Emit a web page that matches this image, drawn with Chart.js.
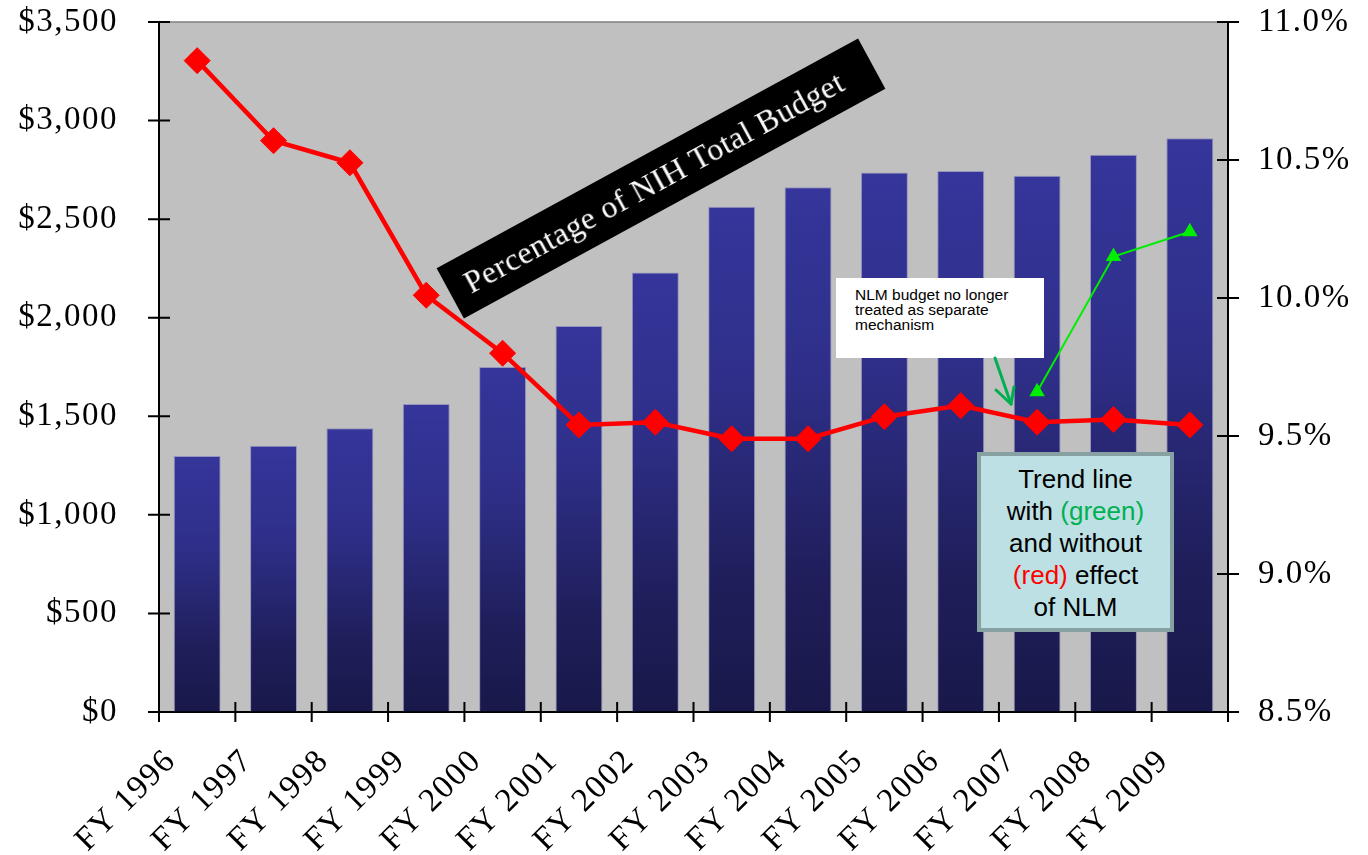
<!DOCTYPE html>
<html>
<head>
<meta charset="utf-8">
<title>NIH budget and percentage</title>
<script src="https://cdn.jsdelivr.net/npm/chart.js@4.4.1/dist/chart.umd.min.js"></script>
<style>
  html, body { margin: 0; padding: 0; background: #fff; }
  #wrap { position: relative; width: 1368px; height: 855px; overflow: hidden; }
  #chart { position: absolute; left: 0; top: 0; }
  .note { position: absolute; box-sizing: border-box; }
  #pctLabel {
    left: 421px; top: 150px; width: 480px; height: 57px;
    background: #000; color: #fff;
    font: 32px "Liberation Serif", "Times New Roman", serif;
    letter-spacing: 0.5px;
    line-height: 57px; padding-left: 18px; white-space: nowrap;
    transform: rotate(-28.6deg);
  }
  #nlmNote {
    left: 836px; top: 278px; width: 208px; height: 80px;
    background: #fff; color: #000;
    font: 15.5px "Liberation Sans", Arial, sans-serif;
    line-height: 15px; padding: 9px 0 0 19px;
  }
  #trendNote {
    left: 977px; top: 452px; width: 197px; height: 180px;
    background: #bce0e4; border: 4px solid #87a1a3;
    font: 26px "Liberation Sans", Arial, sans-serif;
    line-height: 32px; text-align: center; padding-top: 7px; color: #000;
  }
  #trendNote .g { color: #00b050; }
  #trendNote .r { color: #ff0000; }
  #arrow { position: absolute; left: 0; top: 0; }
</style>
</head>
<body>
<div id="wrap">
  <canvas id="chart" width="1368" height="855"></canvas>
  <div class="note" id="pctLabel">Percentage of NIH Total Budget</div>
  <div class="note" id="nlmNote">NLM budget no longer<br>treated as separate<br>mechanism</div>
  <svg id="arrow" width="1368" height="855">
    <g stroke="#00b050" stroke-width="3" fill="none" stroke-linecap="round">
      <line x1="995" y1="358" x2="1011" y2="404"/>
      <line x1="996" y1="390" x2="1011" y2="404"/>
      <line x1="1014" y1="387" x2="1011" y2="404"/>
    </g>
  </svg>
  <div class="note" id="trendNote">
    Trend line<br>with <span class="g">(green)</span><br>and without<br><span class="r">(red)</span> effect<br>of NLM
  </div>
</div>

<script>
// fiscal years on the category axis
const years = ['FY 1996', 'FY 1997', 'FY 1998', 'FY 1999', 'FY 2000', 'FY 2001', 'FY 2002',
               'FY 2003', 'FY 2004', 'FY 2005', 'FY 2006', 'FY 2007', 'FY 2008', 'FY 2009'];

// NLM budget, $ millions (bars, left axis)
const budget = [1298, 1350, 1439, 1562, 1750, 1958, 2229, 2563, 2662, 2737, 2744, 2720, 2827, 2910];

// share of NIH total budget, % (right axis)
const pctWithoutNlm = [10.86, 10.57, 10.49, 10.01, 9.80, 9.54, 9.55, 9.49, 9.49, 9.57, 9.61, 9.55, 9.56, 9.54];
const pctWithNlm = [null, null, null, null, null, null, null, null, null, null, null, 9.66, 10.15, 10.24];

// axis ranges and ticks
const moneyTicks = [0, 500, 1000, 1500, 2000, 2500, 3000, 3500];
const pctTicks = [8.5, 9.0, 9.5, 10.0, 10.5, 11.0];

function barGradient(ctx) {
  const chart = ctx.chart;
  if (!chart.chartArea || ctx.type !== 'data') return '#333399';
  const y = chart.scales.y;
  const top = y.getPixelForValue(ctx.raw);
  const base = y.getPixelForValue(0);
  const g = chart.ctx.createLinearGradient(0, top, 0, base);
  g.addColorStop(0, '#35359b');
  g.addColorStop(0.35, '#2f2f8a');
  g.addColorStop(0.75, '#1f1e5a');
  g.addColorStop(1, '#19184a');
  return g;
}

// grey plot area, top frame line, tick marks that cross the axes
const plotFrame = {
  id: 'plotFrame',
  beforeDraw(chart) {
    const { ctx, chartArea: a } = chart;
    ctx.save();
    ctx.fillStyle = '#c0c0c0';
    ctx.fillRect(a.left, a.top, a.right - a.left, a.bottom - a.top);
    ctx.strokeStyle = '#808080';
    ctx.lineWidth = 1.5;
    ctx.beginPath();
    ctx.moveTo(a.left, a.top);
    ctx.lineTo(a.right, a.top);
    ctx.stroke();
    ctx.restore();
    // stretched look of the serif tick labels
    ctx.letterSpacing = '1.5px';
  },
  afterDraw(chart) {
    const { ctx, chartArea: a, scales } = chart;
    ctx.letterSpacing = '0px';
    ctx.save();
    ctx.strokeStyle = '#000';
    ctx.lineWidth = 2;
    ctx.beginPath();
    for (let i = 0; i <= years.length; i++) {
      const x = scales.x.getPixelForValue(i - 0.5);
      ctx.moveTo(x, a.bottom - 10);
      ctx.lineTo(x, a.bottom + 10);
    }
    for (const t of scales.y.ticks) {
      const y = scales.y.getPixelForValue(t.value);
      ctx.moveTo(a.left - 11, y);
      ctx.lineTo(a.left + 11, y);
    }
    for (const t of scales.y1.ticks) {
      const y = scales.y1.getPixelForValue(t.value);
      ctx.moveTo(a.right - 11, y);
      ctx.lineTo(a.right + 11, y);
    }
    ctx.stroke();
    ctx.restore();
  }
};

const tickFont = { family: '"Liberation Serif", "Times New Roman", serif', size: 33 };

new Chart(document.getElementById('chart').getContext('2d'), {
  data: {
    labels: years,
    datasets: [
      {
        type: 'bar',
        label: 'Budget',
        data: budget,
        yAxisID: 'y',
        backgroundColor: barGradient,
        borderColor: 'rgba(130,130,190,0.7)',
        borderWidth: 1,
        barPercentage: 0.615,
        categoryPercentage: 1,
        order: 3
      },
      {
        type: 'line',
        label: 'Without NLM',
        data: pctWithoutNlm,
        yAxisID: 'y1',
        borderColor: '#ff0000',
        backgroundColor: '#ff0000',
        borderWidth: 4.5,
        pointStyle: 'rectRot',
        pointRadius: 13,
        pointBorderWidth: 1,
        tension: 0,
        order: 2
      },
      {
        type: 'line',
        label: 'With NLM',
        data: pctWithNlm,
        yAxisID: 'y1',
        borderColor: '#00ee00',
        backgroundColor: '#00ee00',
        borderWidth: 2,
        pointStyle: 'triangle',
        pointRadius: 7,
        tension: 0,
        order: 1
      }
    ]
  },
  options: {
    responsive: false,
    devicePixelRatio: 1,
    animation: false,
    layout: { padding: { top: 22, left: 0, right: 0, bottom: 0 } },
    plugins: { legend: { display: false }, tooltip: { enabled: false } },
    scales: {
      x: {
        offset: true,
        grid: { display: true, drawOnChartArea: false, drawTicks: false },
        border: { color: '#000', width: 2 },
        ticks: {
          color: '#000', font: tickFont, minRotation: 45, maxRotation: 45,
          padding: 30, labelOffset: -26, autoSkip: false
        },
        afterFit(s) { s.height = 143; s.paddingLeft = 0; s.paddingRight = 0; }
      },
      y: {
        position: 'left',
        min: 0, max: moneyTicks[moneyTicks.length - 1],
        afterBuildTicks(s) { s.ticks = moneyTicks.map(v => ({ value: v })); },
        grid: { display: true, drawOnChartArea: false, drawTicks: false },
        border: { color: '#000', width: 2 },
        ticks: {
          color: '#000', font: tickFont, padding: 41,
          callback: v => '$' + Number(v).toLocaleString('en-US')
        },
        afterFit(s) { s.width = 159; s.paddingTop = 0; s.paddingBottom = 0; }
      },
      y1: {
        position: 'right',
        min: pctTicks[0], max: pctTicks[pctTicks.length - 1],
        afterBuildTicks(s) { s.ticks = pctTicks.map(v => ({ value: v })); },
        grid: { display: true, drawOnChartArea: false, drawTicks: false },
        border: { color: '#000', width: 2 },
        ticks: {
          color: '#000', font: tickFont, padding: 30,
          callback: v => Number(v).toFixed(1) + '%'
        },
        afterFit(s) { s.width = 140; s.paddingTop = 0; s.paddingBottom = 0; }
      }
    }
  },
  plugins: [plotFrame]
});
</script>
</body>
</html>
